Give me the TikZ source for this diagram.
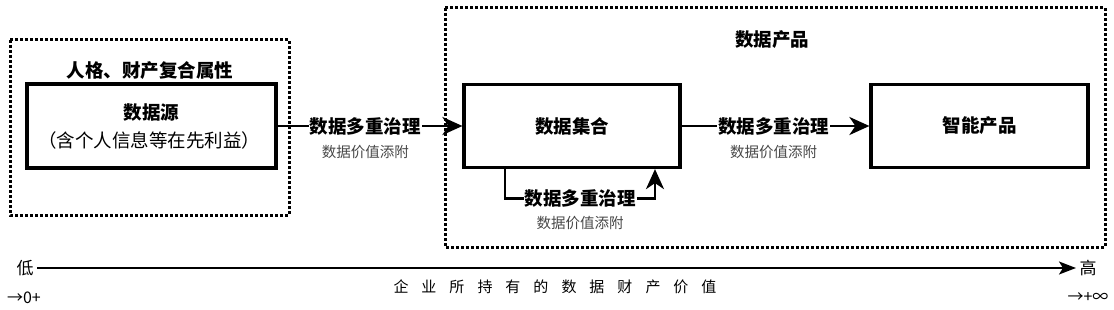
\documentclass[tikz,border=0pt]{standalone}
\usepackage{fontspec}
\setmainfont{Noto Sans CJK SC}
\usepackage{tikz}
\usetikzlibrary{arrows.meta}

\tikzset{
  box/.style={draw, line width=3.2pt, inner sep=0pt},
  group/.style={line width=3pt, dash pattern=on 3pt off 2pt},
  flow/.style={line width=2.8pt, -{Stealth[length=20pt,width=18pt,inset=6pt]}},
  big/.style={font=\fontsize{18.5}{21}\selectfont\bfseries},
  small/.style={font=\fontsize{14.5}{17}\selectfont, text=black!72},
}
\newcommand\gap{\hspace{13pt}}

\begin{document}
\begin{tikzpicture}[x=1pt,y=-1pt]
  \useasboundingbox (0,0) rectangle (1114,310);
  % groups
  \draw[group] (10,40) rectangle (289,215);
  \draw[group] (445,8) rectangle (1105,247);
  \node[big] (persona) at (150,71) {人格、财产复合属性};
  \node[big] (prodgrp) at (772,40) {数据产品};
  % boxes
  \node[box, minimum width=249pt, minimum height=84pt] (src) at (151.5,126) {};
  \node[big] at (151.5,113) {数据源};
  \node[font=\fontsize{18.5}{21}\selectfont] at (149,140) {（含个人信息等在先利益）};
  \node[box, big, minimum width=216pt, minimum height=83pt] (set) at (572,126) {数据集合};
  \node[box, big, minimum width=217pt, minimum height=83pt] (prod) at (979.5,126) {智能产品};
  % flows
  \draw[flow] (src) -- (set)
    node[pos=0.475, big, fill=white, inner sep=1pt] {数据多重治理}
    node[pos=0.475, small, yshift=-26pt] {数据价值添附};
  \draw[flow] (set) -- (prod)
    node[pos=0.49, big, fill=white, inner sep=1pt] {数据多重治理}
    node[pos=0.49, small, yshift=-26pt] {数据价值添附};
  \draw[flow] ([xshift=-67pt]set.south) -- ++(0,29) -| ([xshift=83pt]set.south)
    node[pos=0.25, big, fill=white, inner sep=1pt] {数据多重治理}
    node[pos=0.25, small, yshift=-25pt] {数据价值添附};
  % axis
  \node[big, font=\fontsize{17}{19}\selectfont] (low) at (25,268) {低};
  \node[big, font=\fontsize{17}{19}\selectfont] (high) at (1088,268) {高};
  \draw[line width=1.6pt, -{Stealth[length=17pt,width=13pt,inset=4pt]}] (low) -- (high);
  \node[font=\fontsize{15}{17}\selectfont] at (555,287) {企\gap 业\gap 所\gap 持\gap 有\gap 的\gap 数\gap 据\gap 财\gap 产\gap 价\gap 值};
  \node[font=\fontsize{16}{18}\selectfont] at (24,298) {→0+};
  \node[font=\fontsize{16}{18}\selectfont] at (1088,298) {→+∞};
\end{tikzpicture}
\end{document}
